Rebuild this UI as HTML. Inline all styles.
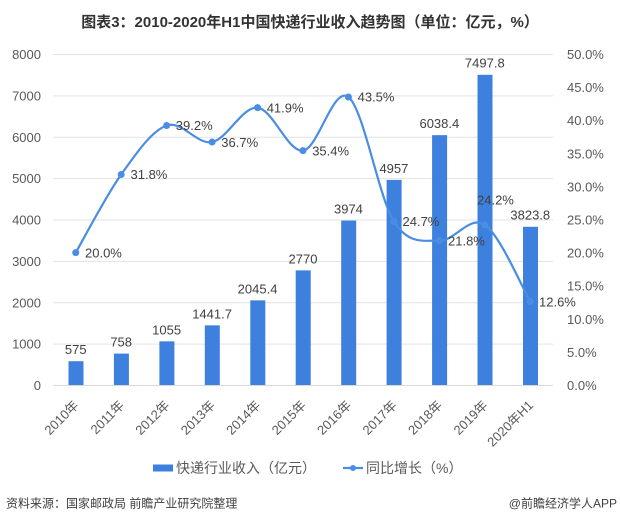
<!DOCTYPE html>
<html>
<head>
<meta charset="utf-8">
<style>
  html,body{margin:0;padding:0;background:#fff;}
  svg{display:block;}
  text{font-family:"Liberation Sans","Noto Sans CJK SC",sans-serif;}
</style>
</head>
<body>
<svg width="620" height="522" viewBox="0 0 620 522" xmlns="http://www.w3.org/2000/svg">
  <rect width="620" height="522" fill="#fff"/>
  <!-- Title -->
  <text x="310" y="27" text-anchor="middle" font-size="15" font-weight="bold" fill="#333">图表3：2010-2020年H1中国快递行业收入趋势图（单位：亿元，%）</text>

  <!-- Gridlines -->
  <g stroke="#e3e3e3" stroke-width="1">
    <line x1="53" x2="553" y1="54.5" y2="54.5"/>
    <line x1="53" x2="553" y1="95.9" y2="95.9"/>
    <line x1="53" x2="553" y1="137.3" y2="137.3"/>
    <line x1="53" x2="553" y1="178.6" y2="178.6"/>
    <line x1="53" x2="553" y1="220" y2="220"/>
    <line x1="53" x2="553" y1="261.4" y2="261.4"/>
    <line x1="53" x2="553" y1="302.8" y2="302.8"/>
    <line x1="53" x2="553" y1="344.1" y2="344.1"/>
    <line x1="53" x2="553" y1="385.5" y2="385.5" stroke="#d9d9d9"/>
  </g>

  <!-- Left axis labels -->
  <g font-size="13" fill="#595959" text-anchor="end">
    <text x="41" y="59">8000</text>
    <text x="41" y="100.4">7000</text>
    <text x="41" y="141.8">6000</text>
    <text x="41" y="183.1">5000</text>
    <text x="41" y="224.5">4000</text>
    <text x="41" y="265.9">3000</text>
    <text x="41" y="307.3">2000</text>
    <text x="41" y="348.6">1000</text>
    <text x="41" y="390">0</text>
  </g>
  <!-- Right axis labels -->
  <g font-size="13" fill="#595959" text-anchor="start">
    <text x="567" y="59">50.0%</text>
    <text x="567" y="92.1">45.0%</text>
    <text x="567" y="125.2">40.0%</text>
    <text x="567" y="158.3">35.0%</text>
    <text x="567" y="191.4">30.0%</text>
    <text x="567" y="224.5">25.0%</text>
    <text x="567" y="257.6">20.0%</text>
    <text x="567" y="290.7">15.0%</text>
    <text x="567" y="323.8">10.0%</text>
    <text x="567" y="356.9">5.0%</text>
    <text x="567" y="390">0.0%</text>
  </g>

  <!-- Bars -->
  <g fill="#3d80de">
    <rect x="68.5" y="361.2" width="15" height="23.8"/>
    <rect x="113.9" y="353.6" width="15" height="31.4"/>
    <rect x="159.4" y="341.35" width="15" height="43.65"/>
    <rect x="204.8" y="325.35" width="15" height="59.65"/>
    <rect x="250.3" y="300.37" width="15" height="84.63"/>
    <rect x="295.7" y="270.39" width="15" height="114.61"/>
    <rect x="341.2" y="220.58" width="15" height="164.42"/>
    <rect x="386.6" y="179.9" width="15" height="205.1"/>
    <rect x="432.1" y="135.16" width="15" height="249.84"/>
    <rect x="477.5" y="74.78" width="15" height="310.22"/>
    <rect x="523" y="226.79" width="15" height="158.21"/>
  </g>

  <!-- Bar value labels -->
  <g font-size="13" fill="#404040" text-anchor="middle">
    <text x="75.73" y="354">575</text>
    <text x="121.18" y="346.5">758</text>
    <text x="166.64" y="334.3">1055</text>
    <text x="212.09" y="318.3">1441.7</text>
    <text x="257.55" y="293.3">2045.4</text>
    <text x="303" y="263.3">2770</text>
    <text x="348.45" y="213.5">3974</text>
    <text x="393.91" y="172.8">4957</text>
    <text x="439.36" y="128.1">6038.4</text>
    <text x="484.82" y="67.7">7497.8</text>
    <text x="530.27" y="219.7">3823.8</text>
  </g>

  <!-- Line series -->
  <path d="M75.73,252.6 C83.31,239.58 106.03,195.68 121.18,174.5 C136.33,153.32 151.49,130.91 166.64,125.5 C181.79,120.09 196.94,145.03 212.09,142.05 C227.24,139.07 242.4,106.19 257.55,107.62 C272.7,109.05 287.85,152.42 303,150.65 C318.15,148.88 333.3,85.22 348.45,97.03 C363.6,108.84 378.76,197.55 393.91,221.49 C409.06,245.43 424.21,240.13 439.36,240.68 C454.51,241.23 469.67,214.65 484.82,224.8 C499.97,234.95 522.69,288.79 530.27,301.59" fill="none" stroke="#4a8de3" stroke-width="2.2"/>
  <g fill="#4a8de3">
    <circle cx="75.73" cy="252.6" r="3.5"/>
    <circle cx="121.18" cy="174.5" r="3.5"/>
    <circle cx="166.64" cy="125.5" r="3.5"/>
    <circle cx="212.09" cy="142.05" r="3.5"/>
    <circle cx="257.55" cy="107.62" r="3.5"/>
    <circle cx="303" cy="150.65" r="3.5"/>
    <circle cx="348.45" cy="97.03" r="3.5"/>
    <circle cx="393.91" cy="221.49" r="3.5"/>
    <circle cx="439.36" cy="240.68" r="3.5"/>
    <circle cx="484.82" cy="224.8" r="3.5"/>
    <circle cx="530.27" cy="301.59" r="3.5"/>
  </g>

  <!-- Percent labels -->
  <g font-size="13" fill="#404040">
    <text x="85" y="257.3">20.0%</text>
    <text x="130.5" y="179.2">31.8%</text>
    <text x="175.8" y="130.2">39.2%</text>
    <text x="221.3" y="146.8">36.7%</text>
    <text x="266.7" y="112.3">41.9%</text>
    <text x="312.2" y="155.4">35.4%</text>
    <text x="357.6" y="101.7">43.5%</text>
    <text x="402.5" y="226.2">24.7%</text>
    <text x="448" y="245.4">21.8%</text>
    <text x="477" y="204.3">24.2%</text>
    <text x="539" y="306.3">12.6%</text>
  </g>

  <!-- Category labels -->
  <g font-size="13" fill="#595959" text-anchor="end">
    <text x="79.5" y="406" transform="rotate(-45 79.5 406)">2010年</text>
    <text x="125" y="406" transform="rotate(-45 125 406)">2011年</text>
    <text x="170.4" y="406" transform="rotate(-45 170.4 406)">2012年</text>
    <text x="215.9" y="406" transform="rotate(-45 215.9 406)">2013年</text>
    <text x="261.3" y="406" transform="rotate(-45 261.3 406)">2014年</text>
    <text x="306.8" y="406" transform="rotate(-45 306.8 406)">2015年</text>
    <text x="352.2" y="406" transform="rotate(-45 352.2 406)">2016年</text>
    <text x="397.7" y="406" transform="rotate(-45 397.7 406)">2017年</text>
    <text x="443.1" y="406" transform="rotate(-45 443.1 406)">2018年</text>
    <text x="488.6" y="406" transform="rotate(-45 488.6 406)">2019年</text>
    <text x="534" y="406" transform="rotate(-45 534 406)">2020年H1</text>
  </g>

  <!-- Legend -->
  <rect x="153" y="464.5" width="20" height="7" fill="#3d80de"/>
  <text x="176" y="473" font-size="14" fill="#595959">快递行业收入（亿元）</text>
  <line x1="343" x2="363" y1="468" y2="468" stroke="#4a8de3" stroke-width="2.2"/>
  <circle cx="353" cy="468" r="3" fill="#4a8de3"/>
  <text x="366" y="473" font-size="14" fill="#595959">同比增长（%）</text>

  <!-- Footer -->
  <text x="6" y="507.5" font-size="12" fill="#404040">资料来源：国家邮政局 前瞻产业研究院整理</text>
  <text x="617" y="507.5" font-size="12" fill="#404040" text-anchor="end">@前瞻经济学人APP</text>
</svg>
</body>
</html>
